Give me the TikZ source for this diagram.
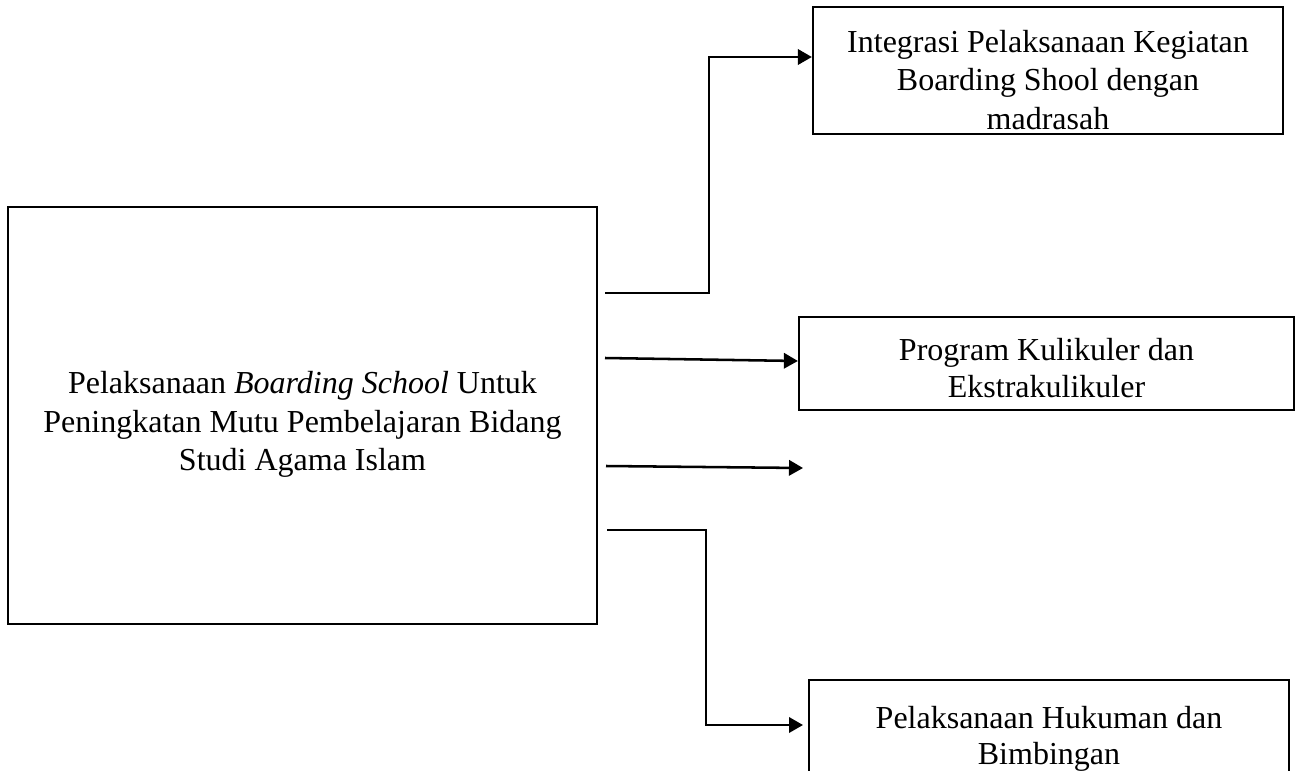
\documentclass[tikz,border=0pt]{standalone}
\usepackage{fontspec}
\setmainfont{Liberation Serif}
\usetikzlibrary{arrows.meta}
\begin{document}
\begin{tikzpicture}[x=0.75pt,y=-0.75pt,
  box/.style={draw,line width=1.7pt,inner sep=0pt},
  txt/.style={align=center,inner sep=0pt,font=\fontsize{24}{28.9}\selectfont},
  conn/.style={line width=1.9pt,-{Triangle[length=10.5pt,width=11.5pt]}}]
\clip (0,0) rectangle (1296,771);
\fill[white] (0,0) rectangle (1296,771);
\node[box,minimum width=589*0.75pt,minimum height=417*0.75pt,
  label={[txt,yshift=-6.75pt]center:Pelaksanaan \textit{Boarding School} Untuk\\Peningkatan Mutu Pembelajaran Bidang\\Studi Agama Islam}] (main) at (302.5,415.5) {};
\node[box,minimum width=470*0.75pt,minimum height=127*0.75pt,
  label={[txt,yshift=-7pt]center:Integrasi Pelaksanaan Kegiatan\\Boarding Shool dengan\\madrasah}] (b1) at (1048,70.5) {};
\node[box,minimum width=495*0.75pt,minimum height=93*0.75pt,
  label={[txt,yshift=-3.4pt]center:Program Kulikuler dan\\[-1.5pt]Ekstrakulikuler}] (b2) at (1046.5,363.5) {};
\node[box,minimum width=480*0.75pt,minimum height=120*0.75pt,
  label={[txt,yshift=1pt]center:Pelaksanaan Hukuman dan\\[-2pt]Bimbingan}] (b4) at (1049,740) {};
% connectors
\coordinate (s1) at (605,293);
\coordinate (e1) at (b1.west |- 0,57);
\draw[conn] (s1) -- (709,293) |- (e1);
\coordinate (s2) at (605,358);
\coordinate (e2) at (b2.west |- 0,361);
\draw[conn] (s2) -- (e2);
\coordinate (s3) at (606,466);
\coordinate (e3) at (803,468);
\draw[conn] (s3) -- (e3);
\coordinate (s4) at (607,530);
\coordinate (e4) at (803,725);
\draw[conn] (s4) -- (706,530) |- (e4);
\end{tikzpicture}
\end{document}
